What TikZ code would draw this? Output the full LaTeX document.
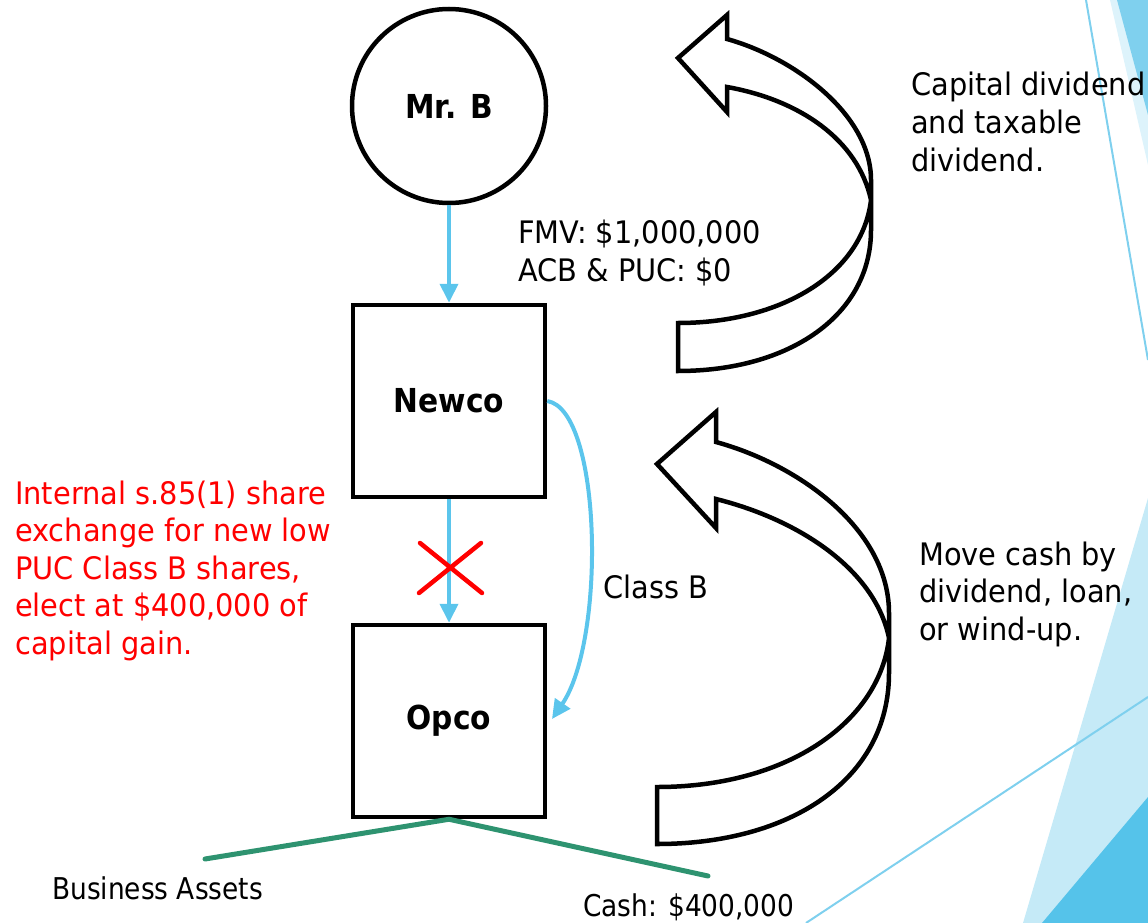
\documentclass[tikz,border=0pt]{standalone}
\usepackage{fontspec}
\setmainfont{DejaVu Sans}[FakeStretch=0.93]
\newfontfamily\headfont{DejaVu Sans}[FakeStretch=0.9]
\newfontfamily\narrowfont{DejaVu Sans}[FakeStretch=0.88]
\usetikzlibrary{arrows.meta}

\definecolor{linkblue}{HTML}{5BC5EC}
\definecolor{assetgreen}{HTML}{2E9370}
\definecolor{pale}{HTML}{C5EAF7}
\definecolor{midblue}{HTML}{55C3EA}
\definecolor{topblue}{HTML}{7FD0EE}
\definecolor{paler}{HTML}{DDF3FB}

\tikzset{
  entity/.style={draw=black, line width=4.5pt, inner sep=0pt,
    font=\headfont\bfseries\fontsize{33}{38}\selectfont},
  company/.style={entity, rectangle, minimum width=192pt, minimum height=192pt},
  person/.style={entity, circle, minimum size=194pt},
  owns/.style={draw=linkblue, line width=4pt,
    -{Triangle[length=19pt,width=18pt]}},
  cross/.style={draw=red, line width=4.5pt, line cap=round},
  split/.style={draw=assetgreen, line width=5pt, line cap=round},
  blockarrow/.style={draw=black, fill=white, line width=4.5pt, line join=miter},
  label/.style={inner sep=0pt, anchor=base west, align=left,
    font=\fontsize{31}{37.5}\selectfont},
  smalllabel/.style={inner sep=0pt, anchor=base west,
    font=\narrowfont\fontsize{30}{36}\selectfont}
}

\begin{document}
\begin{tikzpicture}[x=1pt, y=-1pt]
\useasboundingbox (0,0) rectangle (1148,923);

% slide decoration on the right edge
\fill[paler] (1110,0) -- (1148,165) -- (1148,0) -- cycle;
\fill[topblue] (1117,0) -- (1148,115) -- (1148,0) -- cycle;
\fill[pale] (1023,923) -- (1148,498) -- (1148,923) -- cycle;
\fill[midblue] (1042,923) -- (1148,797) -- (1148,923) -- cycle;
\draw[topblue, line width=2pt] (1086,0) -- (1148,360);
\draw[topblue, line width=2pt] (1148,697) -- (806,923);

% entities
\node[person] (mrb) at (449,106) {Mr. B};
\node[company] (newco) at (449,401) {Newco};
\node[company] (opco) at (449,721) {Opco};

% ownership links
\draw[owns] (mrb.south) -- (newco.north);
\draw[owns] (newco.south) -- (opco.north);
\coordinate (classBend) at (552,719);
\draw[owns] (newco.east) .. controls (602,410) and (606,640) .. (classBend);

% struck-out direct holding
\draw[cross] (420,543) -- (482,593) (481,543) -- (419,593);

% assets held by Opco
\coordinate (bizEnd) at (205,859);
\coordinate (cashEnd) at (708,876);
\draw[split] (bizEnd) -- (opco.south) -- (cashEnd);

% curved block arrows
\draw[blockarrow] (678,58) -- (727,15) -- (727,39)
  .. controls (795,58) and (871,115) .. (871,180) -- (871,230)
  .. controls (871,315) and (790,371) .. (678,371) -- (678,323)
  .. controls (780,323) and (862,275) .. (871,200)
  .. controls (858,140) and (800,100) .. (727,87) -- (727,112) -- cycle;
\draw[blockarrow] (657,464) -- (716,412) -- (716,442)
  .. controls (800,465) and (889,530) .. (889,613) -- (889,673)
  .. controls (889,780) and (790,844) .. (657,844) -- (657,787)
  .. controls (790,787) and (880,720) .. (889,638)
  .. controls (875,570) and (800,520) .. (716,499) -- (716,528) -- cycle;

% labels (anchored at the baseline of their last line)
\node[label] (shares) at (518,281) {FMV: \$1,000,000\\ACB \& PUC: \$0};
\node[label] (divs) at (911,171) {Capital dividend\\and taxable\\dividend.};
\node[label] (cash) at (919,640) {Move cash by\\dividend, loan,\\or wind-up.};
\node[label] (classb) at (603,598) {Class B};
\node[label, text=red] (note) at (15,654) {Internal s.85(1) share\\exchange for new low\\PUC Class B shares,\\elect at \$400,000 of\\capital gain.};
\node[smalllabel] (biz) at (52,899) {Business Assets};
\node[smalllabel] (cashamt) at (583,916) {Cash: \$400,000};
\end{tikzpicture}
\end{document}
